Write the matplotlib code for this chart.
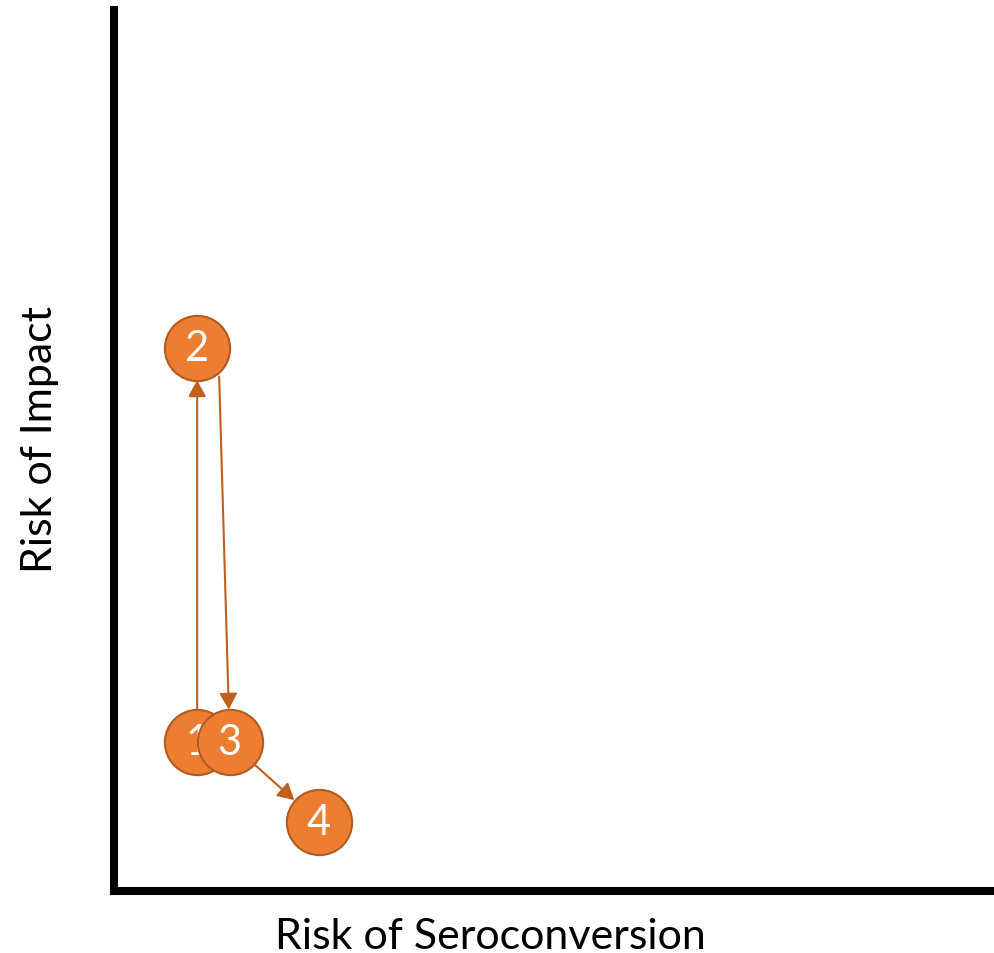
import numpy as np
import matplotlib.pyplot as plt

# step positions on the risk map (arbitrary 0-100 scale)
labels = ['1', '2', '3', '4']
seroconversion = [9.5, 9.5, 13.2, 23.3]
impact = [16.8, 61.4, 16.8, 7.8]
# arrows between steps (from index, to index)
steps = [(0, 1), (1, 2), (2, 3)]

fill = '#ED7D31'
edge = '#B05C22'
arrow_col = '#C0601F'

fig = plt.figure(figsize=(9.94, 9.54), dpi=100)
ax = fig.add_axes([0.1142, 0.065, 0.8858, 0.9235])
ax.set_xlim(0, 100)
ax.set_ylim(0, 100 * 0.9235 / 0.9277)

for s in ['top', 'right']:
    ax.spines[s].set_visible(False)
for s in ['left', 'bottom']:
    ax.spines[s].set_linewidth(5.8)
    ax.spines[s].set_color('black')
ax.set_xticks([])
ax.set_yticks([])

radius_pt = 23.5

# circles with numbers, drawn in order so later ones sit on top
for i, lab in enumerate(labels):
    ax.plot(seroconversion[i], impact[i], 'o', ms=2 * radius_pt, mfc=fill,
            mec=edge, mew=1.5, zorder=3 + i, clip_on=False)
    ax.text(seroconversion[i], impact[i], lab, color='white', fontsize=30,
            family='Lato', ha='center', va='center', zorder=3 + i)

arrow_props = dict(arrowstyle='-|>,head_length=0.55,head_width=0.3',
                   mutation_scale=18, color=arrow_col, lw=1.5,
                   shrinkA=radius_pt, shrinkB=radius_pt)

fig.canvas.draw()
for a, b in steps:
    start = (seroconversion[a], impact[a])
    props = dict(arrow_props)
    if a == 1:
        # the return arrow leaves circle 2 from its lower right side
        px = ax.transData.transform(start) + np.array([22, -29])
        start = ax.transData.inverted().transform(px)
        props['shrinkA'] = 0
    ax.annotate('', xy=(seroconversion[b], impact[b]), xytext=start,
                arrowprops=props, zorder=2)

fig.text(0.493, 0.018, 'Risk of Seroconversion', fontsize=31, family='Lato',
         ha='center', va='center')
fig.text(0.040, 0.539, 'Risk of Impact', fontsize=31, family='Lato',
         ha='center', va='center', rotation=90)

fig.savefig('out.png', dpi=100)
